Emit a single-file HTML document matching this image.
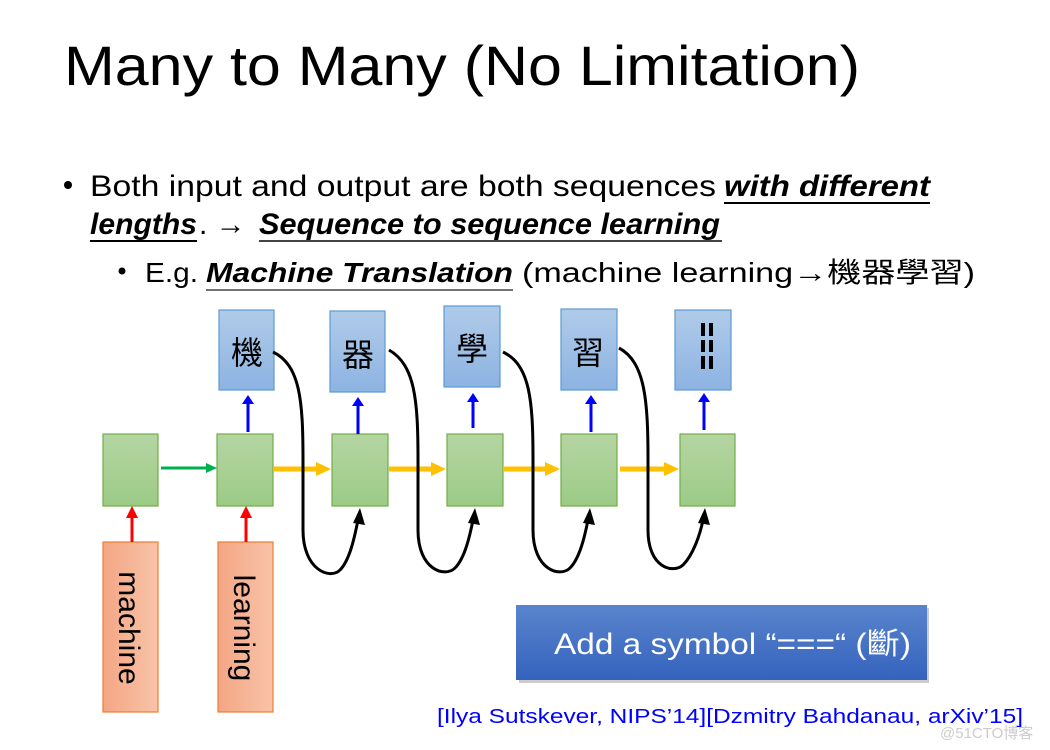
<!DOCTYPE html>
<html><head><meta charset="utf-8"><style>
html,body{margin:0;padding:0;background:#fff;width:1050px;height:750px;overflow:hidden}
svg text{font-family:"Liberation Sans","Noto Sans CJK TC",sans-serif}
</style></head><body>
<svg width="1050" height="750" viewBox="0 0 1050 750" xmlns="http://www.w3.org/2000/svg">
<defs>
<linearGradient id="gg" x1="0" y1="0" x2="0" y2="1"><stop offset="0" stop-color="#b5d5a3"/><stop offset="1" stop-color="#9ccb86"/></linearGradient>
<linearGradient id="bg" x1="0" y1="0" x2="0" y2="1"><stop offset="0" stop-color="#b0cbe9"/><stop offset="1" stop-color="#8db3e2"/></linearGradient>
<linearGradient id="og" x1="0" y1="0" x2="1" y2="0"><stop offset="0" stop-color="#f4a684"/><stop offset="1" stop-color="#f8c3a9"/></linearGradient>
<linearGradient id="btn" x1="0" y1="0" x2="0" y2="1"><stop offset="0" stop-color="#5a84cc"/><stop offset="1" stop-color="#3463be"/></linearGradient>
</defs>
<text x="64" y="85" font-size="56" textLength="796" lengthAdjust="spacingAndGlyphs" fill="#000">Many to Many (No Limitation)</text>
<circle cx="68" cy="185" r="4" fill="#000"/>
<text x="90" y="196" font-size="30" textLength="626" lengthAdjust="spacingAndGlyphs">Both input and output are both sequences</text>
<text x="724" y="196" font-size="30" font-weight="bold" font-style="italic" textLength="206" lengthAdjust="spacingAndGlyphs">with different</text>
<line x1="724" y1="203" x2="930" y2="203" stroke="#000" stroke-width="2"/>
<text x="90" y="234" font-size="30" font-weight="bold" font-style="italic" textLength="107" lengthAdjust="spacingAndGlyphs">lengths</text>
<line x1="90" y1="241" x2="197" y2="241" stroke="#000" stroke-width="2"/>
<text x="199" y="234" font-size="30">. →</text>
<text x="259" y="234" font-size="30" font-weight="bold" font-style="italic" textLength="461" lengthAdjust="spacingAndGlyphs">Sequence to sequence learning</text>
<line x1="259" y1="241" x2="722" y2="241" stroke="#444" stroke-width="2"/>
<circle cx="122" cy="271" r="3.5" fill="#000"/>
<text x="145" y="282" font-size="28" textLength="53" lengthAdjust="spacingAndGlyphs">E.g.</text>
<text x="206" y="282" font-size="28" font-weight="bold" font-style="italic" textLength="307" lengthAdjust="spacingAndGlyphs">Machine Translation</text>
<line x1="206" y1="290" x2="513" y2="290" stroke="#444" stroke-width="1.5"/>
<text x="522" y="282" font-size="28" textLength="453" lengthAdjust="spacingAndGlyphs">(machine learning→機器學習)</text>

<g fill="url(#gg)" stroke="#70ad47" stroke-width="1.2">
<rect x="103" y="434" width="55" height="72"/><rect x="217" y="434" width="56" height="72"/><rect x="332" y="434" width="56" height="72"/><rect x="447" y="434" width="56" height="72"/><rect x="561" y="434" width="56" height="72"/><rect x="680" y="434" width="55" height="72"/>
</g>
<g fill="url(#bg)" stroke="#5b9bd5" stroke-width="1.2">
<rect x="219" y="310" width="55" height="80"/><rect x="330" y="311" width="55" height="81"/><rect x="444" y="306" width="56" height="81"/><rect x="561" y="309" width="56" height="81"/><rect x="675" y="310" width="56" height="80"/>
</g>
<g font-size="32" fill="#000" text-anchor="middle" style="font-family:'Noto Serif CJK SC','Noto Sans CJK TC',serif">
<text x="247" y="364">機</text><text x="358" y="366">器</text><text x="472" y="360">學</text><text x="588" y="364">習</text>
</g>
<g fill="#000">
<rect x="701" y="323" width="4" height="13"/><rect x="709" y="323" width="4" height="13"/>
<rect x="701" y="340" width="4" height="12"/><rect x="709" y="340" width="4" height="12"/>
<rect x="701" y="356" width="4" height="13"/><rect x="709" y="356" width="4" height="13"/>
</g>
<g fill="url(#og)" stroke="#ed7d31" stroke-width="1.2">
<rect x="103" y="542" width="55" height="170"/><rect x="218" y="542" width="55" height="170"/>
</g>
<text transform="translate(119,628) rotate(90)" font-size="30" text-anchor="middle">machine</text>
<text transform="translate(234,628) rotate(90)" font-size="30" text-anchor="middle">learning</text>
<g stroke="#ff0000" stroke-width="3"><line x1="132" y1="542" x2="132" y2="516"/><line x1="246" y1="542" x2="246" y2="516"/></g>
<g fill="#ff0000"><path d="M126,518 L132,506 L138,518Z"/><path d="M240,518 L246,506 L252,518Z"/></g>
<line x1="161" y1="468" x2="208" y2="468" stroke="#00b050" stroke-width="3"/>
<path d="M206,463 L217,468 L206,473Z" fill="#00b050"/>
<g stroke="#ffc000" stroke-width="5">
<line x1="274" y1="469" x2="318" y2="469"/><line x1="389" y1="469" x2="433" y2="469"/><line x1="503" y1="469" x2="547" y2="469"/><line x1="620" y1="469" x2="666" y2="469"/>
</g>
<g fill="#ffc000"><path d="M316,462 L331,469 L316,476Z"/><path d="M431,462 L446,469 L431,476Z"/><path d="M545,462 L560,469 L545,476Z"/><path d="M664,462 L679,469 L664,476Z"/></g>
<g stroke="#0000ff" stroke-width="3"><line x1="248" y1="432" x2="248" y2="402"/><line x1="358" y1="434" x2="358" y2="404"/><line x1="473" y1="428" x2="473" y2="400"/><line x1="591" y1="432" x2="591" y2="402"/><line x1="704" y1="430" x2="704" y2="400"/></g>
<g fill="#0000ff"><path d="M242,404 L248,395 L254,404Z"/><path d="M352,406 L358,397 L364,406Z"/><path d="M467,402 L473,393 L479,402Z"/><path d="M585,404 L591,395 L597,404Z"/><path d="M698,402 L704,393 L710,402Z"/></g>
<g fill="none" stroke="#000" stroke-width="3">
<path d="M273,352 C300,365 303,400 303,460 L303,530 C303,570 330,580 340,570 C350,560 355,535 358,520"/>
<path d="M389,350 C415,365 418,400 418,460 L418,530 C418,570 445,578 455,568 C465,558 470,535 473,520"/>
<path d="M503,352 C530,365 533,400 533,460 L533,530 C533,570 560,578 570,568 C580,558 585,535 588,520"/>
<path d="M619,348 C645,362 648,400 648,460 L648,530 C648,568 673,574 683,565 C693,555 700,535 703,520"/>
</g>
<g fill="#000"><path d="M353,523 L360,508 L365,525Z"/><path d="M468,523 L475,508 L480,525Z"/><path d="M583,523 L590,508 L595,525Z"/><path d="M698,523 L705,508 L710,525Z"/></g>
<rect x="519" y="608" width="410" height="75" fill="#999" opacity="0.5"/>
<rect x="516" y="605" width="411" height="75" fill="url(#btn)"/>
<text x="554" y="654" font-size="30" fill="#fff" textLength="357" lengthAdjust="spacingAndGlyphs">Add a symbol “===“ (斷)</text>
<text x="437" y="723" font-size="20" fill="#0000ff" textLength="586" lengthAdjust="spacingAndGlyphs">[Ilya Sutskever, NIPS’14][Dzmitry Bahdanau, arXiv’15]</text>
<text x="940" y="738" font-size="15" fill="#ccc">@51CTO博客</text>
</svg>
</body></html>
